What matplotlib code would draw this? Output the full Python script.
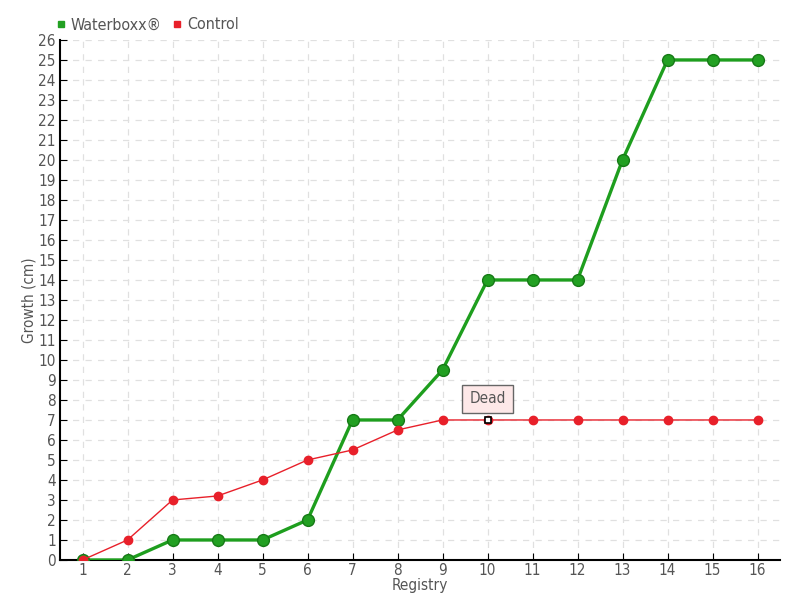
import matplotlib
matplotlib.use("Agg")
import matplotlib.pyplot as plt
import matplotlib.font_manager as fm
from matplotlib.lines import Line2D

registry = list(range(1, 17))
waterboxx = [0, 0, 1, 1, 1, 2, 7, 7, 9.5, 14, 14, 14, 20, 25, 25, 25]
control = [0, 1, 3, 3.2, 4, 5, 5.5, 6.5, 7, 7, 7, 7, 7, 7, 7, 7]
dead_at = 10

names = {f.name for f in fm.fontManager.ttflist}
if 'Liberation Sans Narrow' in names:
    plt.rcParams['font.family'] = ['Liberation Sans Narrow', 'DejaVu Sans']
else:
    plt.rcParams['font.family'] = ['DejaVu Sans']
    plt.rcParams['font.stretch'] = 'condensed'

txt = '#555555'
fig = plt.figure(figsize=(8, 6), dpi=100)
ax = fig.add_axes([0.075, 0.0667, 0.9, 0.8667])

ax.plot(registry, waterboxx, color='#1e9e1e', linewidth=2.4, marker='o', markersize=8.5,
        markerfacecolor='#22a022', markeredgecolor='#167a16', markeredgewidth=1,
        label='Waterboxx®', zorder=3)
ax.plot(registry, control, color='#e8202a', linewidth=1, marker='o', markersize=6,
        markerfacecolor='#e8202a', markeredgecolor='#e8202a', label='Control', zorder=4)
i = registry.index(dead_at)
ax.plot([dead_at], [control[i]], marker='s', markersize=5, markerfacecolor='white',
        markeredgecolor='black', markeredgewidth=1.2, linestyle='none', zorder=5)
ax.annotate('Dead', xy=(dead_at, control[i]), xytext=(dead_at, control[i] + 1.05),
            ha='center', va='center', fontsize=11, color=txt,
            bbox=dict(boxstyle='square,pad=0.45', fc='#fde8e8', ec='#666666', lw=1),
            zorder=6)

ax.set_xlim(0.5, 16.5)
ax.set_ylim(0, 26)
ax.set_xticks(registry)
ax.set_yticks(range(0, 27))
ax.tick_params(axis='both', direction='in', colors='black', labelcolor=txt, labelsize=11, length=5)
ax.tick_params(axis='x', pad=2)
ax.tick_params(axis='y', pad=3)
ax.grid(True, linestyle=(0, (5, 5)), color='#e0e0e0', linewidth=0.9)
ax.set_axisbelow(True)
for s in ['top', 'right']:
    ax.spines[s].set_visible(False)
ax.spines['left'].set_linewidth(1.5)
ax.spines['bottom'].set_linewidth(1.5)

ax.set_xlabel('Registry', fontsize=11, color=txt, labelpad=0.5)
ax.set_ylabel('Growth (cm)', fontsize=11, color=txt, labelpad=1)

handles = [Line2D([], [], marker='s', color='#22a022', linestyle='none', markersize=5),
           Line2D([], [], marker='s', color='#e8202a', linestyle='none', markersize=5)]
fig.legend(handles, ['Waterboxx®', 'Control'], loc='upper left', bbox_to_anchor=(0.048, 0.995),
           ncol=2, frameon=False, fontsize=11.5, labelcolor=txt, handletextpad=0.1,
           columnspacing=0.5, handlelength=1)

fig.savefig('out.png', dpi=100)
